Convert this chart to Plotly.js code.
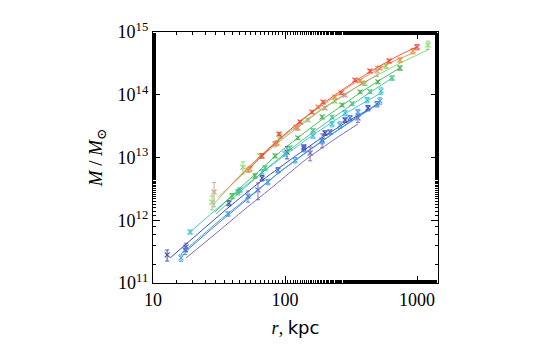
<!DOCTYPE html>
<html>
<head>
<meta charset="utf-8">
<script src="https://cdn.plot.ly/plotly-3.0.1.min.js"></script>
<style>
  html, body { margin: 0; padding: 0; background: #fff; }
  #plot { width: 545px; height: 362px; }
</style>
</head>
<body>
<div id="plot"></div>
<script>
// radius in kpc, mass in solar masses; *_fit = model curve, *_r/_m = measured points
var red_fit_r = [54.3, 64.6, 91.6, 130, 184, 261, 370, 524, 743, 1000];
var red_fit_m = [6.8e12, 9.95e12, 2.0e13, 3.77e13, 6.68e13, 1.13e14, 1.84e14, 2.88e14, 4.32e14, 5.81e14];
var red_r = [67, 90, 130, 160, 194, 266, 339, 440, 614, 1000];
var red_m = [1.06e13, 2.37e13, 3.68e13, 5.31e13, 7.66e13, 1.07e14, 1.72e14, 2.39e14, 3.45e14, 5.77e14];
var red_err = [0.08, 0.06, 0.06, 0.05, 0.05, 0.05, 0.05, 0.06, 0.07, 0.1];

var orange_fit_r = [38.3, 54.3, 77, 109, 155, 219, 311, 440, 624, 933];
var orange_fit_m = [3.52e12, 7.35e12, 1.47e13, 2.74e13, 4.94e13, 8.25e13, 1.38e14, 2.14e14, 3.21e14, 4.62e14];
var orange_r = [54.3, 87, 121, 178, 239, 370, 524, 743, 933];
var orange_m = [6.6e12, 1.70e13, 3.06e13, 6.38e13, 9.2e13, 1.66e14, 2.67e14, 3.58e14, 4.98e14];
var orange_err = [0.1, 0.08, 0.06, 0.05, 0.05, 0.05, 0.06, 0.08, 0.1];

var tan_fit_r = [31.1, 45.6, 64.6, 91.6, 130, 184, 261, 370, 498];
var tan_fit_m = [2.34e12, 4.9e12, 9.8e12, 1.83e13, 3.18e13, 5.51e13, 8.87e13, 1.43e14, 2.06e14];
var tan_r = [29.0, 52.4, 84, 125, 201, 285, 383, 498];
var tan_m = [2.82e12, 6.3e12, 1.64e13, 2.95e13, 6.15e13, 9.9e13, 1.54e14, 2.39e14];
var tan_err = [0.42, 0.08, 0.1, 0.08, 0.06, 0.06, 0.06, 0.18];

var lgreen_fit_r = [28.5, 45.6, 67, 100, 155, 261, 440, 743, 1211];
var lgreen_fit_m = [1.75e12, 5.15e12, 1.11e13, 2.24e13, 4.43e13, 9.2e13, 1.77e14, 3.18e14, 5.18e14];
var lgreen_r = [28.0, 48.0, 64.6, 91.6, 149, 239, 404, 582, 1211];
var lgreen_m = [1.95e12, 7.0e12, 1.06e13, 2.20e13, 3.96e13, 7.9e13, 1.52e14, 2.87e14, 6.21e14];
var lgreen_err = [0.25, 0.22, 0.08, 0.08, 0.06, 0.06, 0.08, 0.08, 0.15];

var green_fit_r = [29.5, 45.6, 64.6, 91.6, 130, 184, 261, 370, 524, 743];
var green_fit_m = [1.35e12, 3.27e12, 6.3e12, 1.22e13, 2.20e13, 3.82e13, 6.38e13, 1.07e14, 1.72e14, 2.67e14];
var green_r = [39.7, 59.3, 84, 125, 191, 270, 370, 506, 743];
var green_m = [2.43e12, 5.1e12, 1.06e13, 2.05e13, 4.42e13, 6.87e13, 1.11e14, 1.60e14, 2.67e14];
var green_err = [0.1, 0.08, 0.07, 0.06, 0.06, 0.05, 0.05, 0.06, 0.08];

var teal_fit_r = [30.0, 45.6, 64.6, 91.6, 130, 184, 261, 370, 524, 647];
var teal_fit_m = [1.25e12, 2.83e12, 5.38e12, 9.93e12, 1.77e13, 3.03e13, 5.13e13, 8.49e13, 1.38e14, 1.84e14];
var teal_r = [44.0, 70.6, 109, 163, 227, 322, 440, 647];
var teal_m = [2.8e12, 6.8e12, 1.42e13, 2.7e13, 4.4e13, 7.2e13, 1.12e14, 1.85e14];
var teal_err = [0.1, 0.08, 0.07, 0.06, 0.06, 0.06, 0.06, 0.08];

var cyan_fit_r = [19.1, 32.2, 54.3, 91.6, 155, 261, 370, 552];
var cyan_fit_m = [6.5e11, 1.68e12, 4.07e12, 9.45e12, 2.12e13, 4.42e13, 6.87e13, 1.11e14];
var cyan_r = [19.1, 45.6, 67, 100, 163, 227, 285, 418, 534];
var cyan_m = [6.5e11, 3.03e12, 5.9e12, 1.14e13, 2.20e13, 3.42e13, 5.12e13, 8.25e13, 1.15e14];
var cyan_err = [0.07, 0.08, 0.08, 0.08, 0.08, 0.1, 0.1, 0.1, 0.12];

var lblue_fit_r = [16.3, 32.2, 54.3, 91.6, 155, 261, 370, 524];
var lblue_fit_m = [2.9e11, 1.01e12, 2.43e12, 5.9e12, 1.32e13, 2.85e13, 4.59e13, 7.35e13];
var lblue_r = [16.3, 37.0, 74.3, 119, 191, 261, 357, 524];
var lblue_m = [2.51e11, 1.26e12, 4.07e12, 9.1e12, 1.83e13, 3.30e13, 5.31e13, 8.0e13];
var lblue_err = [0.12, 0.08, 0.1, 0.1, 0.1, 0.12, 0.1, 0.12];

var dblue_fit_r = [13.5, 22.7, 37.6, 64.6, 109, 184, 311, 425];
var dblue_fit_m = [2.51e11, 6.5e11, 1.62e12, 4.07e12, 9.1e12, 1.97e13, 3.96e13, 5.71e13];
var dblue_r = [12.8, 37.6, 67, 103.6, 139, 201, 285, 425];
var dblue_m = [2.80e11, 1.88e12, 4.7e12, 1.22e13, 1.47e13, 2.46e13, 3.96e13, 6.15e13];
var dblue_err = [0.2, 0.1, 0.1, 0.22, 0.08, 0.08, 0.08, 0.1];

var blue_fit_r = [17.5, 29.5, 49.8, 84, 142, 239, 370, 506];
var blue_fit_m = [3.12e11, 8.1e11, 2.02e12, 5.1e12, 1.18e13, 2.55e13, 4.76e13, 7.28e13];
var blue_r = [17.5, 52.4, 88.5, 139, 219, 311, 498];
var blue_m = [3.36e11, 2.43e12, 6.3e12, 1.37e13, 2.55e13, 4.26e13, 7.1e13];
var blue_err = [0.15, 0.2, 0.1, 0.1, 0.08, 0.1, 0.1];

var purple_fit_r = [17.8, 29.5, 49.8, 84, 142, 239, 357];
var purple_fit_m = [2.51e11, 6.0e11, 1.51e12, 3.65e12, 9.1e12, 1.97e13, 3.42e13];
var purple_r = [17.8, 62.4, 155, 191, 357];
var purple_m = [3.75e11, 3.03e12, 1.18e13, 1.90e13, 4.26e13];
var purple_err = [0.15, 0.3, 0.25, 0.25, 0.15];

var x_ticks = [10, 100, 1000];
var x_labels = ['10', '100', '1000'];
var y_ticks = [1e11, 1e12, 1e13, 1e14, 1e15];
var y_labels = ['10<sup>11</sup>', '10<sup>12</sup>', '10<sup>13</sup>', '10<sup>14</sup>', '10<sup>15</sup>'];

var series = [
  ['#7058b8', purple_fit_r, purple_fit_m, purple_r, purple_m, purple_err],
  ['#2838a8', dblue_fit_r, dblue_fit_m, dblue_r, dblue_m, dblue_err],
  ['#3a6ad0', blue_fit_r, blue_fit_m, blue_r, blue_m, blue_err],
  ['#3a9ae0', lblue_fit_r, lblue_fit_m, lblue_r, lblue_m, lblue_err],
  ['#30c0d8', cyan_fit_r, cyan_fit_m, cyan_r, cyan_m, cyan_err],
  ['#3cc080', teal_fit_r, teal_fit_m, teal_r, teal_m, teal_err],
  ['#3ab54a', green_fit_r, green_fit_m, green_r, green_m, green_err],
  ['#84d45c', lgreen_fit_r, lgreen_fit_m, lgreen_r, lgreen_m, lgreen_err],
  ['#c49a7c', tan_fit_r, tan_fit_m, tan_r, tan_m, tan_err],
  ['#f08a3c', orange_fit_r, orange_fit_m, orange_r, orange_m, orange_err],
  ['#f04434', red_fit_r, red_fit_m, red_r, red_m, red_err]
];

var data = [];
for (var i = 0; i < series.length; i++) {
  var s = series[i];
  data.push({
    x: s[1], y: s[2], mode: 'lines', type: 'scatter',
    line: {color: s[0], width: 1, shape: 'spline', smoothing: 0.6}, opacity: 0.9, hoverinfo: 'skip'
  });
  var errs = [];
  for (var k = 0; k < s[4].length; k++) errs.push(s[4][k] * s[5][k]);
  data.push({
    x: s[3], y: s[4], mode: 'markers', type: 'scatter',
    marker: {symbol: 'x-thin-open', size: 5, line: {color: s[0], width: 1.2}, color: s[0]},
    error_y: {type: 'data', array: errs, color: s[0], thickness: 1, width: 2},
    opacity: 0.85
  });
}

var serif = "'Liberation Serif', 'DejaVu Serif', serif";
var layout = {
  width: 545, height: 362,
  margin: {l: 153, r: 107, t: 32, b: 79},
  paper_bgcolor: '#fff', plot_bgcolor: '#fff',
  showlegend: false,
  font: {family: serif, color: '#000', size: 16},
  xaxis: {
    type: 'log', range: [1, 3.159], tickvals: x_ticks, ticktext: x_labels,
    ticks: 'inside', ticklen: 7, tickwidth: 1, tickcolor: '#000',
    showline: true, linecolor: '#000', linewidth: 1.2, mirror: 'ticks',
    showgrid: false, zeroline: false,
    minor: {ticks: 'inside', ticklen: 3, tickcolor: '#000', showgrid: false},
    tickfont: {family: serif, size: 18},
    title: {text: '<i>r</i>, <span style="font-family:\'DejaVu Sans\'">kpc</span>', font: {family: serif, size: 18}, standoff: 12}
  },
  yaxis: {
    type: 'log', range: [11, 15], tickvals: y_ticks, ticktext: y_labels,
    ticks: 'inside', ticklen: 7, tickwidth: 1, tickcolor: '#000',
    showline: true, linecolor: '#000', linewidth: 1.2, mirror: 'ticks',
    showgrid: false, zeroline: false,
    minor: {ticks: 'inside', ticklen: 3, tickcolor: '#000', showgrid: false},
    tickfont: {family: serif, size: 18},
    title: {text: '<i>M</i> / <i>M</i><sub>⊙</sub>', font: {family: serif, size: 19}, standoff: 10}
  }
};

Plotly.newPlot('plot', data, layout, {staticPlot: true});
</script>
</body>
</html>
